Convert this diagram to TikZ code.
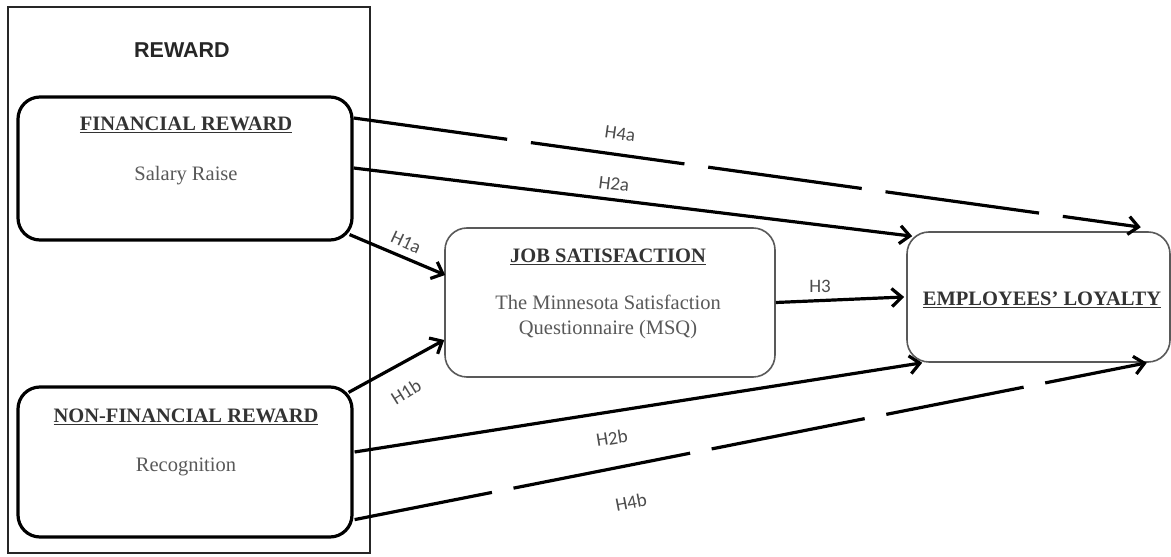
\documentclass[tikz,border=0pt]{standalone}
\usepackage{fontspec}
\setmainfont{Liberation Serif}
\newfontfamily\arialfont{Liberation Sans}
\newfontfamily\califont{Carlito}
\usetikzlibrary{arrows.meta,calc}
\begin{document}
\begin{tikzpicture}[x=1pt,y=1pt,
  outer/.style={draw=black!85, line width=2.2pt, minimum width=362pt, minimum height=546pt, inner sep=0pt},
  thickbox/.style={draw=black, line width=3.2pt, rounded corners=22pt, minimum width=334pt, inner sep=0pt},
  thinbox/.style={draw=black!65, line width=1.6pt, rounded corners=22pt, inner sep=0pt},
  title/.style={font=\fontsize{20.5}{24}\selectfont\bfseries, text=black!80, inner sep=0pt},
  sub/.style={font=\fontsize{20.5}{25}\selectfont, text=black!65, inner sep=0pt, align=center},
  hlab/.style={font=\califont\fontsize{19}{21}\selectfont, text=black!70, inner sep=0pt},
  arr/.style={line width=3.2pt, -{Straight Barb[length=10pt,width=18pt]}},
  darr/.style={arr, dash pattern=on 155pt off 24pt}]
\useasboundingbox (0,0) rectangle (1171,557);
\fill[white] (0,0) rectangle (1171,557);

% outer REWARD box
\node[outer] (rewardbox) at (189,277) {};
\node[font=\arialfont\fontsize{21.5}{24}\selectfont\bfseries, text=black!85, inner sep=0pt] (rewardlbl) at (182,507) {REWARD};

% financial reward
\node[thickbox, minimum height=143pt] (fin) at (185,388.5) {};
\node[title] (fintitle) at (186,432) {\underline{FINANCIAL REWARD}};
\node[sub] (finsub) at (186,381) {Salary Raise};

% non-financial reward
\node[thickbox, minimum height=150pt] (nonfin) at (185,95) {};
\node[title] (nonfintitle) at (186,140) {\underline{NON-FINANCIAL REWARD}};
\node[sub] (nonfinsub) at (186,90) {Recognition};

% job satisfaction
\node[thinbox, minimum width=330pt, minimum height=149pt] (job) at (610,254.5) {};
\node[title] (jobtitle) at (608,300) {\underline{JOB SATISFACTION}};
\node[sub] (jobsub) at (608,240) {The Minnesota Satisfaction\\Questionnaire (MSQ)};

% employees' loyalty
\node[thinbox, minimum width=263pt, minimum height=130pt] (emp) at (1038.5,260) {};
\node[title] (emptitle) at (1042,257) {\underline{EMPLOYEES’ LOYALTY}};

% connectors
\draw[darr] ([yshift=50.5pt]fin.east) -- ([xshift=-30pt,yshift=4pt]emp.north east);
\draw[arr] ([yshift=0.5pt]fin.east) -- ([xshift=6pt,yshift=-5pt]emp.north west);
\draw[arr] ([xshift=-4pt,yshift=7pt]fin.south east) -- ([xshift=1pt,yshift=27.5pt]job.west);
\draw[arr] ([xshift=-5pt,yshift=-7pt]nonfin.north east) -- ([yshift=-37.5pt]job.west);
\draw[arr] (job.east) -- ([xshift=-2pt]emp.west);
\draw[arr] ([xshift=1pt,yshift=10pt]nonfin.east) -- ([xshift=16pt]emp.south west);
\draw[darr, dash pattern=on 140pt off 22pt on 180pt off 22pt on 156pt off 22pt] ([xshift=1pt,yshift=19pt]nonfin.south east) -- ([xshift=-24pt]emp.south east);

% labels
\node[hlab, rotate=-8] (h4a) at (620,423) {H4a};
\node[hlab, rotate=-7] (h2a) at (614,373) {H2a};
\node[hlab, rotate=-25] (h1a) at (406,315) {H1a};
\node[hlab, rotate=32] (h1b) at (406,165) {H1b};
\node[hlab] (h3) at (820,271) {H3};
\node[hlab, rotate=9] (h2b) at (612,119) {H2b};
\node[hlab, rotate=11] (h4b) at (631,55) {H4b};
\end{tikzpicture}
\end{document}
